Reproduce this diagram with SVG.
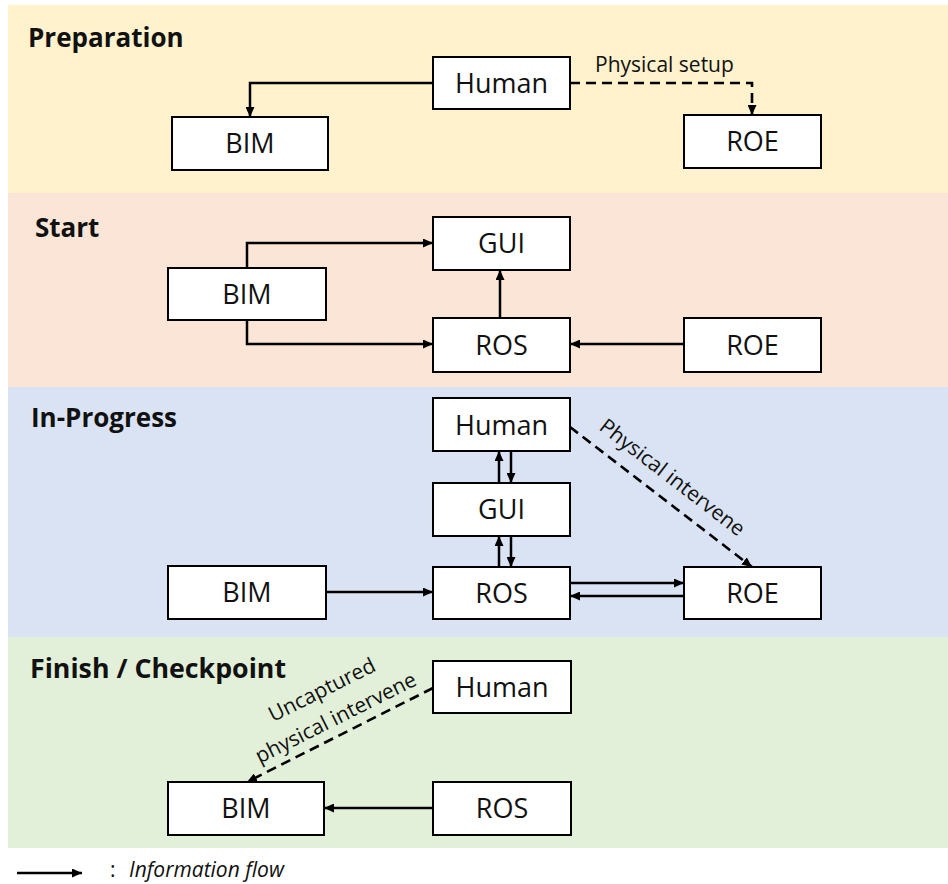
<svg xmlns="http://www.w3.org/2000/svg" width="948" height="884" viewBox="0 0 948 884">
<style>
.box{fill:#fff;stroke:#000;stroke-width:2}
.lbl{font-family:"Open Sans","Noto Sans",sans-serif;font-size:27px;fill:#111;text-anchor:middle}
.ttl{font-family:"Open Sans","Noto Sans",sans-serif;font-size:26px;font-weight:bold;fill:#111}
.el{font-family:"Open Sans","Noto Sans",sans-serif;font-size:21px;fill:#111}
.ln{fill:none;stroke:#000;stroke-width:2.5;marker-end:url(#ah)}
.dl{fill:none;stroke:#000;stroke-width:2.6;stroke-dasharray:10 6;marker-end:url(#ah)}
</style>
<defs>
<marker id="ah" markerUnits="userSpaceOnUse" markerWidth="10" markerHeight="9" refX="10" refY="4.5" orient="auto">
<path d="M0,0 L10,4.5 L0,9 z" fill="#000"/>
</marker>
</defs>
<g id="bands">
<rect x="8" y="5" width="940" height="188" fill="#FFF2CC"/>
<rect x="8" y="193" width="940" height="194" fill="#FBE5D6"/>
<rect x="8" y="387" width="940" height="250" fill="#DAE3F3"/>
<rect x="8" y="637" width="940" height="211" fill="#E2F0D9"/>
</g>
<g id="titles">
<text class="ttl" x="28" y="47">Preparation</text>
<text class="ttl" x="35" y="237">Start</text>
<text class="ttl" x="31" y="427">In-Progress</text>
<text class="ttl" x="30" y="678" textLength="256" lengthAdjust="spacingAndGlyphs">Finish / Checkpoint</text>
</g>
<g id="connectors">
<path class="ln" d="M433,83 H250 V117"/>
<path class="dl" d="M570,83 H752 V115"/>
<path class="ln" d="M247,268 V243 H433"/>
<path class="ln" d="M247,320 V344 H433"/>
<path class="ln" d="M500,318 V270"/>
<path class="ln" d="M684,344 H570"/>
<path class="ln" d="M499,483 V451"/>
<path class="ln" d="M511,451 V483"/>
<path class="ln" d="M499,567 V536"/>
<path class="ln" d="M511,536 V567"/>
<path class="ln" d="M326,592 H433"/>
<path class="ln" d="M570,583 H684"/>
<path class="ln" d="M684,596 H570"/>
<path class="dl" d="M570,427 L752,567"/>
<path class="dl" d="M433,688 L247,782"/>
<path class="ln" d="M433,808 H324"/>
<text class="el" text-anchor="middle" transform="translate(668,483) rotate(37.6)">Physical intervene</text>
<text class="el" x="595" y="72">Physical setup</text>
<text class="el" text-anchor="middle" transform="translate(339,724) rotate(-26.6)"><tspan x="0" y="-31">Uncaptured</tspan><tspan x="0" y="0">physical intervene</tspan></text>
</g>
<g id="prep-human"><rect class="box" x="433" y="57" width="137" height="52"/><text class="lbl" x="501.5" y="93">Human</text></g>
<g id="prep-bim"><rect class="box" x="172" y="117" width="156" height="53"/><text class="lbl" x="250" y="153">BIM</text></g>
<g id="prep-roe"><rect class="box" x="684" y="115" width="137" height="53"/><text class="lbl" x="752.5" y="151">ROE</text></g>
<g id="start-gui"><rect class="box" x="433" y="217" width="137" height="53"/><text class="lbl" x="501.5" y="253">GUI</text></g>
<g id="start-bim"><rect class="box" x="168" y="268" width="158" height="52"/><text class="lbl" x="247" y="304">BIM</text></g>
<g id="start-ros"><rect class="box" x="433" y="318" width="137" height="54"/><text class="lbl" x="501.5" y="355">ROS</text></g>
<g id="start-roe"><rect class="box" x="684" y="318" width="137" height="54"/><text class="lbl" x="752.5" y="355">ROE</text></g>
<g id="prog-human"><rect class="box" x="433" y="398" width="137" height="53"/><text class="lbl" x="501.5" y="435">Human</text></g>
<g id="prog-gui"><rect class="box" x="433" y="483" width="137" height="53"/><text class="lbl" x="501.5" y="519">GUI</text></g>
<g id="prog-ros"><rect class="box" x="433" y="567" width="137" height="52"/><text class="lbl" x="501.5" y="603">ROS</text></g>
<g id="prog-bim"><rect class="box" x="168" y="566" width="158" height="53"/><text class="lbl" x="247" y="602">BIM</text></g>
<g id="prog-roe"><rect class="box" x="684" y="567" width="137" height="52"/><text class="lbl" x="752.5" y="603">ROE</text></g>
<g id="fin-human"><rect class="box" x="433" y="661" width="138" height="52"/><text class="lbl" x="502" y="697">Human</text></g>
<g id="fin-bim"><rect class="box" x="168" y="782" width="156" height="53"/><text class="lbl" x="246" y="818">BIM</text></g>
<g id="fin-ros"><rect class="box" x="433" y="782" width="138" height="53"/><text class="lbl" x="502" y="818">ROS</text></g>
<g id="legend">
<path class="ln" d="M17,873 H82"/>
<text class="el" x="110" y="877" font-size="20">:</text>
<text class="el" x="129" y="877" font-size="20" font-style="italic">Information flow</text>
</g>
</svg>
